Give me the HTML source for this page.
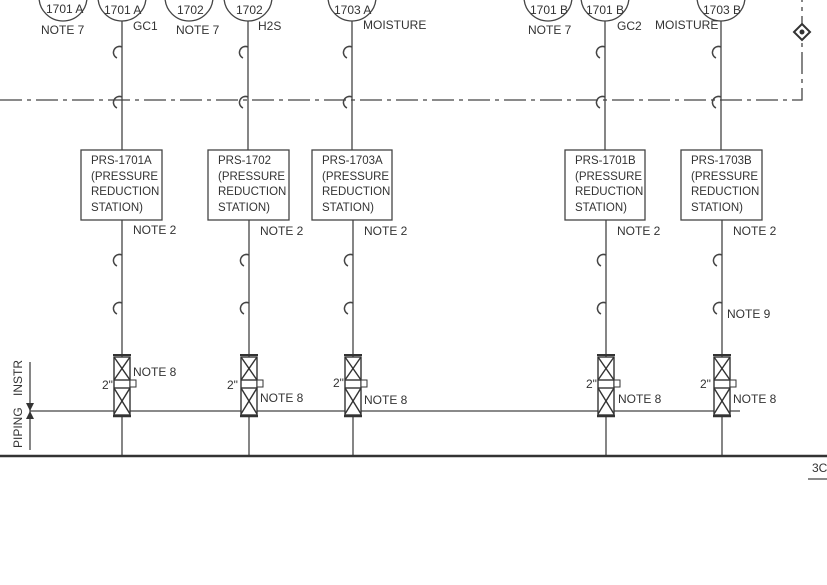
<!DOCTYPE html>
<html><head><meta charset="utf-8"><style>
html,body{margin:0;padding:0;background:#fff;}
svg{display:block;}
text{font-family:"Liberation Sans",sans-serif;fill:#333;}
</style></head><body>
<svg width="827" height="585" viewBox="0 0 827 585" xmlns="http://www.w3.org/2000/svg">
<g stroke="#444" stroke-width="1.3" fill="none">
  <circle cx="63" cy="-3" r="24"/>
  <circle cx="122" cy="-3" r="24"/>
  <circle cx="189" cy="-3" r="24"/>
  <circle cx="248" cy="-3" r="24"/>
  <circle cx="352" cy="-3" r="24"/>
  <circle cx="548" cy="-3" r="24"/>
  <circle cx="605" cy="-3" r="24"/>
  <circle cx="721" cy="-3" r="24"/>
  <line x1="122" y1="21" x2="122" y2="150"/>
  <line x1="248" y1="21" x2="248" y2="150"/>
  <line x1="352" y1="21" x2="352" y2="150"/>
  <line x1="605" y1="21" x2="605" y2="150"/>
  <line x1="721" y1="21" x2="721" y2="150"/>
  <line x1="122" y1="220" x2="122" y2="456"/>
  <line x1="249" y1="220" x2="249" y2="456"/>
  <line x1="353" y1="220" x2="353" y2="456"/>
  <line x1="606" y1="220" x2="606" y2="456"/>
  <line x1="722" y1="220" x2="722" y2="456"/>
  <rect x="81" y="150" width="81" height="70"/>
  <rect x="208" y="150" width="81" height="70"/>
  <rect x="312" y="150" width="80" height="70"/>
  <rect x="565" y="150" width="80" height="70"/>
  <rect x="681" y="150" width="81" height="70"/>
  <path d="M0 100 H802 V0" stroke-dasharray="22 5 4 5"/>
  <g stroke-width="1.5">
    <path d="M122 47 A6 6 0 1 0 117 58"/><path d="M122 97 A6 6 0 1 0 117 108"/>
    <path d="M248 47 A6 6 0 1 0 243 58"/><path d="M248 97 A6 6 0 1 0 243 108"/>
    <path d="M352 47 A6 6 0 1 0 347 58"/><path d="M352 97 A6 6 0 1 0 347 108"/>
    <path d="M605 47 A6 6 0 1 0 600 58"/><path d="M605 97 A6 6 0 1 0 600 108"/>
    <path d="M721 47 A6 6 0 1 0 716 58"/><path d="M721 97 A6 6 0 1 0 716 108"/>
    <path d="M122 255 A6 6 0 1 0 117 266"/><path d="M122 303 A6 6 0 1 0 117 314"/>
    <path d="M249 255 A6 6 0 1 0 244 266"/><path d="M249 303 A6 6 0 1 0 244 314"/>
    <path d="M353 255 A6 6 0 1 0 348 266"/><path d="M353 303 A6 6 0 1 0 348 314"/>
    <path d="M606 255 A6 6 0 1 0 601 266"/><path d="M606 303 A6 6 0 1 0 601 314"/>
    <path d="M722 255 A6 6 0 1 0 717 266"/><path d="M722 303 A6 6 0 1 0 717 314"/>
  </g>
  <line x1="30" y1="411" x2="740" y2="411"/>
  <line x1="0" y1="456" x2="827" y2="456" stroke-width="2.5" stroke="#333"/>
  <line x1="808" y1="479" x2="827" y2="479"/>
  <line x1="30" y1="362" x2="30" y2="450"/>
</g>
<path d="M26 403 L34 403 L30 411 Z M26 419 L34 419 L30 411 Z" fill="#333"/>
<path d="M802 24 L810 32 L802 40 L794 32 Z" fill="#fff" stroke="#333" stroke-width="2"/>
<circle cx="802" cy="32" r="2.5" fill="#333"/>
<defs>
<g id="v" stroke="#333" stroke-width="1.4" fill="#fff">
  <rect x="-8" y="357" width="16" height="58"/>
  <line x1="-8" y1="357" x2="8" y2="380"/><line x1="8" y1="357" x2="-8" y2="380"/>
  <line x1="-8" y1="380" x2="8" y2="380"/><line x1="-8" y1="388" x2="8" y2="388"/>
  <line x1="-8" y1="388" x2="8" y2="414"/><line x1="8" y1="388" x2="-8" y2="414"/>
  <line x1="-9" y1="355" x2="9" y2="355" stroke-width="2"/>
  <line x1="-9" y1="416" x2="9" y2="416" stroke-width="2.5"/>
  <rect x="8" y="380" width="6" height="7" stroke-width="1"/>
</g>
</defs>
<use href="#v" x="122"/><use href="#v" x="249"/><use href="#v" x="353"/><use href="#v" x="606"/><use href="#v" x="722"/>
<g font-size="12">
<text x="46" y="13">1701 A</text><text x="104" y="14">1701 A</text>
<text x="177" y="14">1702</text><text x="236" y="14">1702</text>
<text x="334" y="14">1703 A</text>
<text x="530" y="14">1701 B</text><text x="586" y="14">1701 B</text>
<text x="703" y="14">1703 B</text>
<text x="41" y="34">NOTE 7</text><text x="133" y="30">GC1</text>
<text x="176" y="34">NOTE 7</text><text x="258" y="30">H2S</text>
<text x="363" y="29">MOISTURE</text>
<text x="528" y="34">NOTE 7</text><text x="617" y="30">GC2</text><text x="655" y="29">MOISTURE</text>
</g>
<g font-size="11.5">
<text x="91" y="164">PRS-1701A</text><text x="91" y="180">(PRESSURE</text><text x="91" y="195">REDUCTION</text><text x="91" y="211">STATION)</text>
<text x="218" y="164">PRS-1702</text><text x="218" y="180">(PRESSURE</text><text x="218" y="195">REDUCTION</text><text x="218" y="211">STATION)</text>
<text x="322" y="164">PRS-1703A</text><text x="322" y="180">(PRESSURE</text><text x="322" y="195">REDUCTION</text><text x="322" y="211">STATION)</text>
<text x="575" y="164">PRS-1701B</text><text x="575" y="180">(PRESSURE</text><text x="575" y="195">REDUCTION</text><text x="575" y="211">STATION)</text>
<text x="691" y="164">PRS-1703B</text><text x="691" y="180">(PRESSURE</text><text x="691" y="195">REDUCTION</text><text x="691" y="211">STATION)</text>
</g>
<g font-size="12">
<text x="133" y="234">NOTE 2</text><text x="260" y="235">NOTE 2</text><text x="364" y="235">NOTE 2</text>
<text x="617" y="235">NOTE 2</text><text x="733" y="235">NOTE 2</text>
<text x="727" y="318">NOTE 9</text>
<text x="133" y="376">NOTE 8</text><text x="260" y="402">NOTE 8</text><text x="364" y="404">NOTE 8</text>
<text x="618" y="403">NOTE 8</text><text x="733" y="403">NOTE 8</text>
<text x="102" y="389">2"</text><text x="227" y="389">2"</text><text x="333" y="387">2"</text>
<text x="586" y="388">2"</text><text x="700" y="388">2"</text>
<text x="812" y="472">3C</text>
<text transform="translate(22,396) rotate(-90)">INSTR</text>
<text transform="translate(22,448) rotate(-90)">PIPING</text>
</g>
</svg>
</body></html>
